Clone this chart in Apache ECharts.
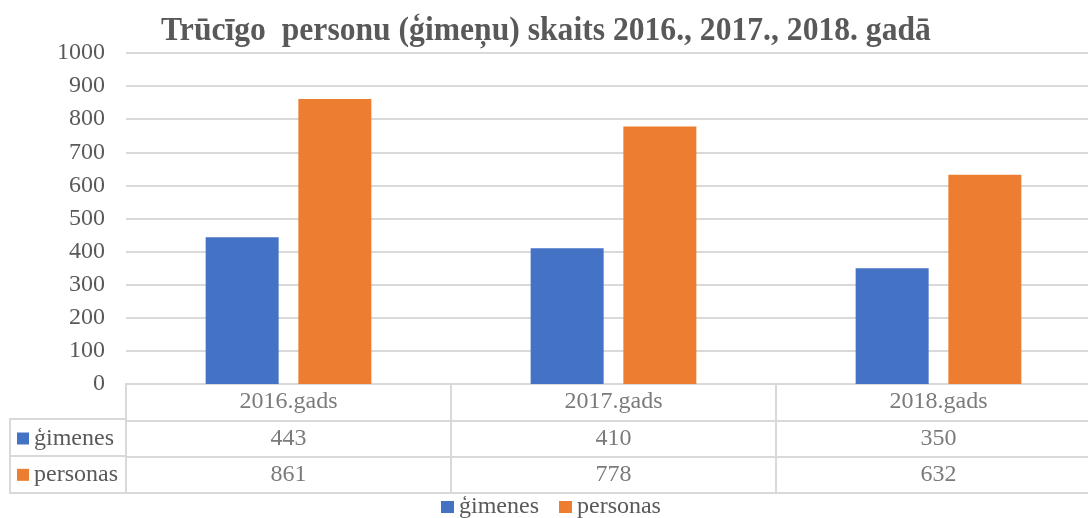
<!DOCTYPE html>
<html>
<head>
<meta charset="utf-8">
<script src="https://cdn.jsdelivr.net/npm/echarts@6/dist/echarts.min.js"></script>
<style>
  html, body { margin: 0; padding: 0; background: #fff; }
  #main { width: 1088px; height: 518px; }
</style>
</head>
<body>
<div id="main"></div>
<script>
// chart data
var titleText = 'Trūcīgo  personu (ģimeņu) skaits 2016., 2017., 2018. gadā';
var categories = ['2016.gads', '2017.gads', '2018.gads'];
var seriesNames = ['ģimenes', 'personas'];
var gimenes = [443, 410, 350];
var personas = [861, 778, 632];
var yTicks = [0, 1000, 100]; // min, max, interval

var Chart = echarts.init(document.getElementById('main'));

var textColor = '#595959';
var lineColor = '#d9d9d9';
var font = '"Liberation Serif", "Times New Roman", serif';
var fs = 24;
var colors = ['#4472C4', '#ED7D31'];

// cells of the data table under the plot
var tableCells = [];
categories.forEach(function (c, i) {
  tableCells.push([i, 0, c]);
  tableCells.push([i, 1, gimenes[i]]);
  tableCells.push([i, 2, personas[i]]);
});

var option = {
  animation: false,
  color: colors,
  textStyle: { fontFamily: font },
  graphic: [
    {
      type: 'text',
      x: 546,
      y: 31,
      scaleX: 0.93,
      style: {
        text: titleText,
        font: 'bold 34px "Liberation Serif", serif',
        fill: textColor,
        textAlign: 'center',
        textVerticalAlign: 'middle'
      }
    },
    {
      // frame around the legend-key column of the table
      type: 'rect',
      shape: { x: 10, y: 419, width: 116, height: 74 },
      style: { fill: 'none', stroke: lineColor, lineWidth: 2 }
    },
    {
      type: 'line',
      shape: { x1: 10, y1: 456, x2: 126, y2: 456 },
      style: { stroke: lineColor, lineWidth: 2 }
    }
  ],
  legend: {
    data: seriesNames,
    top: 495,
    left: 441,
    padding: 0,
    icon: 'rect',
    itemWidth: 13,
    itemHeight: 12,
    itemGap: 20,
    textStyle: { fontFamily: font, fontSize: fs, color: textColor, padding: [0, 0, 0, 0] }
  },
  grid: [
    { left: 126, width: 975, top: 53, height: 331, outerBoundsMode: 'none' },
    { left: 126, width: 975, top: 384, height: 109, outerBoundsMode: 'none', show: true, borderColor: lineColor, borderWidth: 2 }
  ],
  xAxis: [
    {
      type: 'category',
      gridIndex: 0,
      data: categories,
      axisLine: { lineStyle: { color: lineColor, width: 2 } },
      axisTick: { show: false },
      axisLabel: { show: false }
    },
    {
      type: 'category',
      gridIndex: 1,
      data: categories,
      axisLine: { show: false },
      axisTick: { show: false },
      axisLabel: { show: false },
      splitLine: { show: true, lineStyle: { color: lineColor, width: 2 } }
    }
  ],
  yAxis: [
    {
      type: 'value',
      gridIndex: 0,
      min: yTicks[0],
      max: yTicks[1],
      interval: yTicks[2],
      axisLine: { show: false },
      axisTick: { show: false },
      axisLabel: {
        fontFamily: font, fontSize: fs, color: textColor, margin: 21,
        formatter: function (v) { return String(v); }
      },
      splitLine: { lineStyle: { color: lineColor, width: 2 } }
    },
    {
      type: 'category',
      gridIndex: 1,
      inverse: true,
      data: [''].concat(seriesNames),
      axisLine: { show: false },
      axisTick: { show: false },
      splitLine: { show: true, lineStyle: { color: lineColor, width: 2 } },
      axisLabel: {
        align: 'left',
        margin: 109,
        formatter: function (v, i) {
          if (!v) return '';
          return '{k' + i + '|}{t|' + v + '}';
        },
        rich: {
          k1: { backgroundColor: colors[0], width: 12, height: 12 },
          k2: { backgroundColor: colors[1], width: 12, height: 12 },
          t: { fontFamily: font, fontSize: fs, color: textColor, padding: [0, 0, 0, 5] }
        }
      }
    }
  ],
  series: [
    {
      name: seriesNames[0],
      type: 'bar',
      data: gimenes,
      barWidth: 73,
      barGap: '27%'
    },
    {
      name: seriesNames[1],
      type: 'bar',
      data: personas,
      barWidth: 73
    },
    {
      name: 'table',
      type: 'scatter',
      xAxisIndex: 1,
      yAxisIndex: 1,
      symbol: 'rect',
      symbolSize: 1,
      itemStyle: { color: 'rgba(255,255,255,0)' },
      silent: true,
      data: tableCells,
      label: {
        show: true,
        position: 'inside',
        fontFamily: font,
        fontSize: fs,
        color: textColor,
        formatter: function (p) { return p.value[2]; }
      }
    }
  ]
};

Chart.setOption(option);
</script>
</body>
</html>
